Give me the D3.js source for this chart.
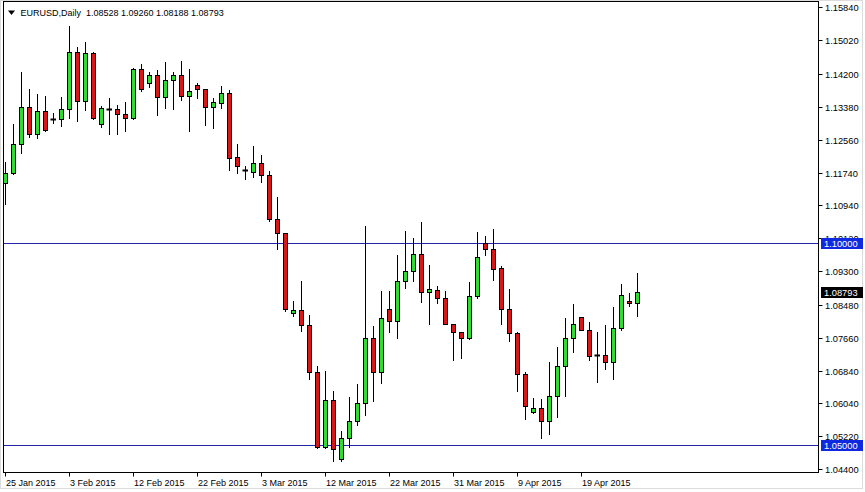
<!DOCTYPE html>
<html>
<head>
<meta charset="utf-8">
<script src="https://cdn.jsdelivr.net/npm/d3@7"></script>
<style>
  html, body { margin: 0; padding: 0; background: #ffffff; }
  svg { display: block; }
  text { font-family: "Liberation Sans", Arial, sans-serif; }
</style>
</head>
<body>
<svg id="chart" width="865" height="492"></svg>
<script>
// ---- DATA (EURUSD Daily) ----
const symbol = "EURUSD,Daily";
const lastBar = ["1.08528", "1.09260", "1.08188", "1.08793"];

const open = [
  1.11481, 1.11730, 1.12449, 1.13367, 1.12697, 1.13275, 1.13084, 1.13084, 1.13318, 1.14732,
  1.13531, 1.14707, 1.12945, 1.13333, 1.13325, 1.13194, 1.13109, 1.14310, 1.13963, 1.14161,
  1.13615, 1.14037, 1.14161, 1.13640, 1.13913, 1.13814, 1.13382, 1.13481, 1.13715, 1.12127,
  1.11811, 1.11762, 1.11978, 1.11687, 1.10588, 1.10241, 1.08280, 1.08355, 1.07983, 1.06806,
  1.04945, 1.06122, 1.04648, 1.05179, 1.05600, 1.06047, 1.07660, 1.06806, 1.08380, 1.08072,
  1.09057, 1.09323, 1.09744, 1.08801, 1.08851, 1.08653, 1.08007, 1.07809, 1.07660, 1.08702,
  1.09993, 1.09844, 1.09397, 1.08380, 1.07784, 1.06767, 1.05814, 1.05923, 1.05591, 1.06221,
  1.06965, 1.07660, 1.08181, 1.07859, 1.07228, 1.07238, 1.07065, 1.07908, 1.08578, 1.08528
];
const high = [
  1.12017, 1.12953, 1.14243, 1.13814, 1.13697, 1.13648, 1.13233, 1.13615, 1.15367, 1.14856,
  1.14988, 1.14732, 1.13400, 1.13598, 1.13424, 1.13499, 1.14350, 1.14449, 1.14243, 1.14293,
  1.14484, 1.14243, 1.14516, 1.14310, 1.13978, 1.13821, 1.13605, 1.13896, 1.13797, 1.12457,
  1.11911, 1.12407, 1.12184, 1.11787, 1.11149, 1.10241, 1.08561, 1.09057, 1.08231, 1.06948,
  1.06824, 1.06328, 1.05342, 1.06179, 1.06501, 1.10422, 1.07940, 1.08809, 1.08809, 1.09702,
  1.10298, 1.10141, 1.10514, 1.09471, 1.08950, 1.08809, 1.08007, 1.07809, 1.09032, 1.10273,
  1.10174, 1.10340, 1.09447, 1.08876, 1.07799, 1.06816, 1.06171, 1.06146, 1.07065, 1.07437,
  1.08156, 1.08486, 1.08181, 1.08057, 1.07809, 1.07983, 1.08429, 1.09000, 1.08777, 1.09260
];
const low = [
  1.10968, 1.11720, 1.12226, 1.12638, 1.12613, 1.12779, 1.12985, 1.12903, 1.13102, 1.13035,
  1.13300, 1.13084, 1.12886, 1.12697, 1.12712, 1.12787, 1.13084, 1.13779, 1.13878, 1.13176,
  1.13350, 1.13333, 1.13548, 1.12772, 1.13586, 1.12928, 1.12861, 1.13357, 1.11811, 1.11744,
  1.11596, 1.11645, 1.11521, 1.10553, 1.09864, 1.08325, 1.08196, 1.07824, 1.06643, 1.04931,
  1.04935, 1.04598, 1.04615, 1.04945, 1.05501, 1.05757, 1.06104, 1.06534, 1.07799, 1.07650,
  1.08891, 1.09057, 1.08553, 1.08007, 1.08529, 1.08007, 1.07114, 1.07164, 1.07625, 1.08653,
  1.09720, 1.09094, 1.08007, 1.07581, 1.06335, 1.05640, 1.05789, 1.05179, 1.05278, 1.05690,
  1.06221, 1.07313, 1.07859, 1.07114, 1.06558, 1.06891, 1.06643, 1.07859, 1.08454, 1.08188
];
const close = [
  1.11730, 1.12449, 1.13367, 1.12697, 1.13275, 1.12797, 1.13084, 1.13318, 1.14732, 1.13531,
  1.14707, 1.13109, 1.13342, 1.13333, 1.13194, 1.13109, 1.14310, 1.13814, 1.14161, 1.13615,
  1.14037, 1.14161, 1.13640, 1.13772, 1.13814, 1.13382, 1.13499, 1.13715, 1.12102, 1.11918,
  1.11811, 1.11978, 1.11680, 1.10603, 1.10241, 1.08367, 1.08355, 1.07983, 1.06806, 1.04945,
  1.06122, 1.04906, 1.05179, 1.05600, 1.06047, 1.07660, 1.06806, 1.08156, 1.08072, 1.09057,
  1.09323, 1.09744, 1.08801, 1.08876, 1.08653, 1.08007, 1.07809, 1.07660, 1.08702, 1.09670,
  1.09844, 1.09372, 1.08380, 1.07784, 1.06767, 1.05973, 1.05923, 1.05591, 1.06221, 1.06965,
  1.07660, 1.08007, 1.07859, 1.07213, 1.07228, 1.07065, 1.07908, 1.08727, 1.08529, 1.08793
];

const priceTicks = ["1.15840", "1.15020", "1.14200", "1.13380", "1.12560", "1.11740", "1.10940",
  "1.10120", "1.09300", "1.08480", "1.07660", "1.06840", "1.06040", "1.05220", "1.04400"];
const dateTicks = ["25 Jan 2015", "3 Feb 2015", "12 Feb 2015", "22 Feb 2015", "3 Mar 2015",
  "12 Mar 2015", "22 Mar 2015", "31 Mar 2015", "9 Apr 2015", "19 Apr 2015"];
const barsPerDateTick = 8;
const hLines = [1.10000, 1.05000];
const lastPrice = 1.08793;

// ---- LAYOUT ----
const svg = d3.select("#chart");
const plot = { left: 3.5, right: 818.5, top: 1.5, bottom: 472.5 };

const y = d3.scaleLinear().domain([1.05, 1.10]).range([445.1, 243.2]);
const x = d3.scaleLinear().domain([0, 1]).range([5.5, 13.5]); // one bar = 8px

const bull = "#2fdc2f", bear = "#d81818";
const lineBlue = "#2424a8", boxBlue = "#1028e0";

// outer window border
svg.append("rect").attr("x", 0.5).attr("y", 0.5).attr("width", 862).attr("height", 488)
  .attr("fill", "none").attr("stroke", "#dcdcdc");

const clipId = "plotclip";
svg.append("clipPath").attr("id", clipId).append("rect")
  .attr("x", plot.left).attr("y", plot.top)
  .attr("width", plot.right - plot.left).attr("height", plot.bottom - plot.top);

const g = svg.append("g").attr("clip-path", `url(#${clipId})`);

// horizontal lines
g.selectAll("line.h").data(hLines).enter().append("line")
  .attr("x1", plot.left).attr("x2", plot.right)
  .attr("y1", d => Math.round(y(d)) + 0.5).attr("y2", d => Math.round(y(d)) + 0.5)
  .attr("stroke", lineBlue).attr("stroke-width", 1);

const idx = d3.range(open.length);
const py = v => Math.round(y(v)) + 0.5;

// wicks
g.selectAll("line.wick").data(idx).enter().append("line")
  .attr("x1", i => x(i)).attr("x2", i => x(i))
  .attr("y1", i => py(high[i]) - 0.5).attr("y2", i => py(low[i]) + 0.5)
  .attr("stroke", "#000").attr("stroke-width", 1);

// bodies
idx.forEach(i => {
  const top = py(Math.max(open[i], close[i]));
  const bot = py(Math.min(open[i], close[i]));
  if (bot - top < 1) {
    g.append("line")
      .attr("x1", x(i) - 3).attr("x2", x(i) + 2.5)
      .attr("y1", top).attr("y2", top)
      .attr("stroke", "#000").attr("stroke-width", 2);
  } else {
    g.append("rect")
      .attr("x", x(i) - 2).attr("y", top)
      .attr("width", 4).attr("height", bot - top)
      .attr("fill", close[i] >= open[i] ? bull : bear)
      .attr("stroke", "#000").attr("stroke-width", 1);
  }
});

// frame
svg.append("rect").attr("x", plot.left).attr("y", plot.top)
  .attr("width", plot.right - plot.left).attr("height", plot.bottom - plot.top)
  .attr("fill", "none").attr("stroke", "#000").attr("stroke-width", 1);

// right price axis
const axR = svg.append("g");
priceTicks.forEach(t => {
  const yy = Math.round(y(+t)) + 0.5;
  axR.append("line").attr("x1", plot.right).attr("x2", plot.right + 4)
    .attr("y1", yy).attr("y2", yy).attr("stroke", "#000");
  axR.append("text").attr("x", 825).attr("y", yy + 3.3)
    .attr("font-size", "9.3px").attr("fill", "#000").text(t);
});

// price boxes
function priceBox(v, fill) {
  const yy = Math.round(y(v));
  svg.append("rect").attr("x", 821).attr("y", yy - 5).attr("width", 42).attr("height", 11)
    .attr("fill", fill);
  svg.append("text").attr("x", 824).attr("y", yy + 3.8)
    .attr("font-size", "9.3px").attr("fill", "#fff").text(d3.format(".5f")(v));
}
hLines.forEach(v => priceBox(v, boxBlue));
priceBox(lastPrice, "#000");

// bottom date axis
const axB = svg.append("g");
dateTicks.forEach((t, k) => {
  const xx = x(k * barsPerDateTick);
  axB.append("line").attr("x1", xx).attr("x2", xx)
    .attr("y1", plot.bottom).attr("y2", plot.bottom + 4).attr("stroke", "#000");
  axB.append("text").attr("x", xx + 0.5).attr("y", 485.5)
    .attr("font-size", "9px").attr("fill", "#000").text(t);
});

// header
svg.append("path").attr("d", "M8,10.5 L15,10.5 L11.5,15 Z").attr("fill", "#000");
svg.append("text").attr("x", 20.5).attr("y", 16.3).attr("font-size", "9px").attr("fill", "#000")
  .attr("xml:space", "preserve")
  .text(symbol + "  " + lastBar.join(" "));
</script>
</body>
</html>
